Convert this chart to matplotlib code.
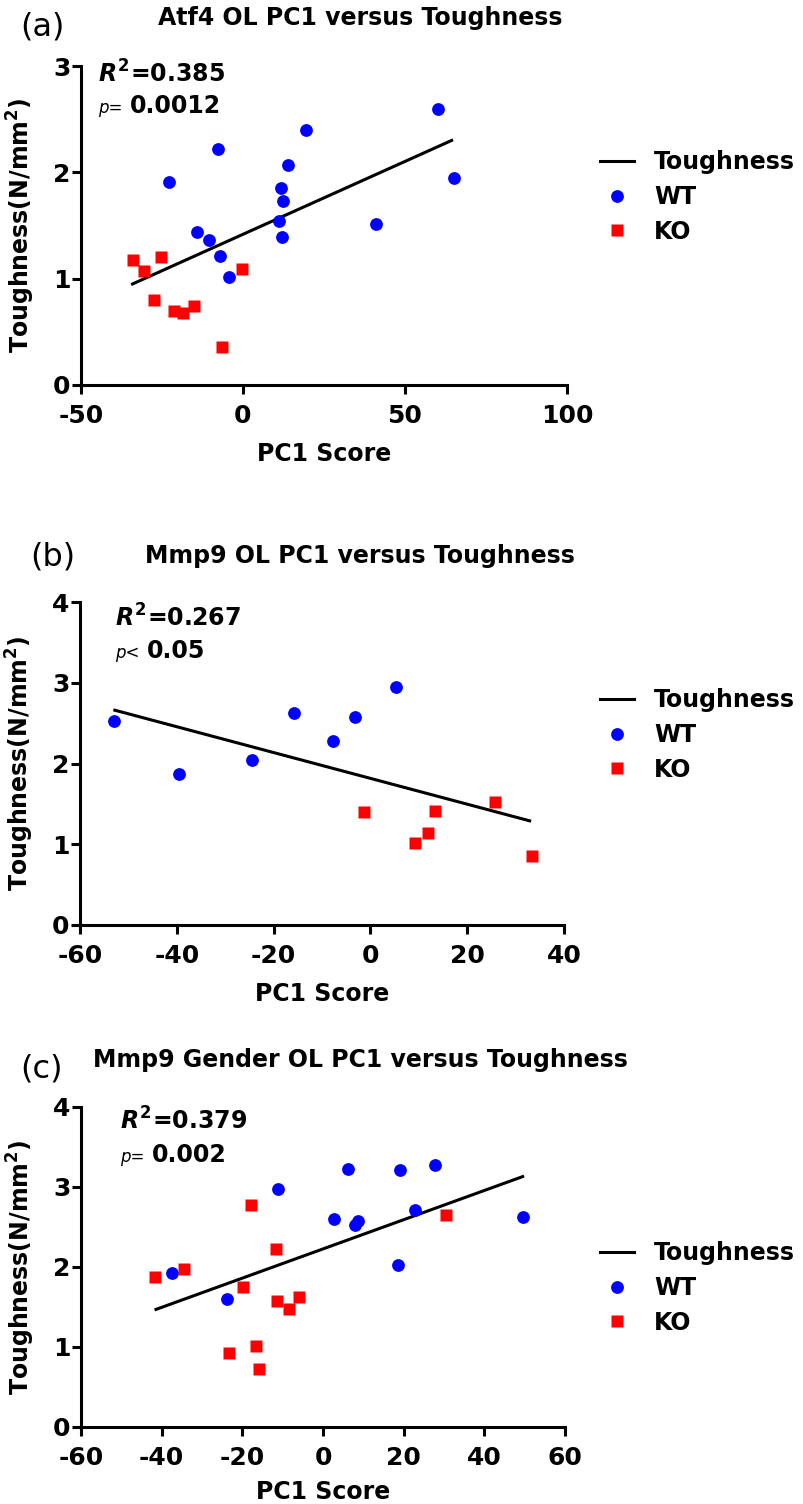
import matplotlib
matplotlib.use('Agg')
import matplotlib.pyplot as plt
import numpy as np

plt.rcParams['font.family'] = ['DejaVu Sans']
plt.rcParams['font.weight'] = 'bold'
plt.rcParams['axes.unicode_minus'] = False
plt.rcParams['mathtext.fontset'] = 'custom'
plt.rcParams['mathtext.it'] = 'DejaVu Sans:italic:bold'
plt.rcParams['mathtext.rm'] = 'DejaVu Sans:bold'
plt.rcParams['mathtext.bf'] = 'DejaVu Sans:bold'

# ---- data ----
# (a) Atf4
a_wt_x = [-22.7, -7.8, 19.3, 13.9, 11.8, 12.5, 11.1, 11.9, 41.1, -14.1, -10.6, -7.0, -4.2, 60.2, 65.0]
a_wt_y = [1.91, 2.22, 2.40, 2.07, 1.85, 1.73, 1.54, 1.39, 1.51, 1.44, 1.36, 1.21, 1.02, 2.60, 1.95]
a_ko_x = [-34.1, -30.6, -25.4, -27.5, -21.4, -18.6, -15.1, -0.3, -6.6]
a_ko_y = [1.18, 1.07, 1.20, 0.80, 0.70, 0.68, 0.74, 1.09, 0.36]
a_fit_x = [-34.1, 64.4]
a_fit_y = [0.95, 2.30]

# (b) Mmp9
b_wt_x = [-52.9, -39.6, -24.4, -15.7, -7.7, -3.1, 5.3]
b_wt_y = [2.53, 1.87, 2.04, 2.62, 2.28, 2.58, 2.95]
b_ko_x = [-1.4, 9.3, 11.9, 13.4, 25.8, 33.4]
b_ko_y = [1.40, 1.01, 1.14, 1.41, 1.52, 0.85]
b_fit_x = [-52.8, 32.9]
b_fit_y = [2.66, 1.29]

# (c) Mmp9 gender
c_wt_x = [-37.5, -23.7, -11.2, 6.2, 2.7, 8.0, 8.8, 19.2, 18.7, 22.9, 27.8, 49.5]
c_wt_y = [1.92, 1.60, 2.98, 3.23, 2.60, 2.52, 2.57, 3.21, 2.03, 2.71, 3.27, 2.63]
c_ko_x = [-41.6, -34.4, -17.8, -11.7, -19.9, -11.5, -8.5, -5.9, 30.6, -23.4, -16.7, -15.9]
c_ko_y = [1.87, 1.97, 2.78, 2.23, 1.75, 1.58, 1.48, 1.63, 2.65, 0.93, 1.01, 0.72]
c_fit_x = [-41.4, 49.5]
c_fit_y = [1.47, 3.13]

titles = ['Atf4 OL PC1 versus Toughness',
          'Mmp9 OL PC1 versus Toughness',
          'Mmp9 Gender OL PC1 versus Toughness']
panel_tags = ['(a)', '(b)', '(c)']
r2_text = ['0.385', '0.267', '0.379']
p_sign = ['p=', 'p<', 'p=']
p_text = ['0.0012', '0.05', '0.002']
x_ticks = [[-50, 0, 50, 100], [-60, -40, -20, 0, 20, 40], [-60, -40, -20, 0, 20, 40, 60]]
y_ticks = [[0, 1, 2, 3], [0, 1, 2, 3, 4], [0, 1, 2, 3, 4]]

W, H = 804, 1504
fig = plt.figure(figsize=(W / 100, H / 100), dpi=100)

def fx(x):
    return x / W

def fy(y):
    return 1 - y / H

# layout in pixels: left, top, right, bottom
boxes = [(81, 66, 567, 385), (80, 602, 564, 925), (81, 1107, 565, 1427)]
tag_pos = [(20, 35), (30, 565), (20, 1077)]
title_y = [25, 563, 1067]
r2_pos = [(98, 83), (115, 627), (120, 1130)]
p_pos = [(98, 130, 113), (115, 147, 658), (120, 152, 1162)]
legend_y = [197, 735, 1288]
xlab_y = [-0.179, -0.176, -0.166]

panels = [
    (a_wt_x, a_wt_y, a_ko_x, a_ko_y, a_fit_x, a_fit_y),
    (b_wt_x, b_wt_y, b_ko_x, b_ko_y, b_fit_x, b_fit_y),
    (c_wt_x, c_wt_y, c_ko_x, c_ko_y, c_fit_x, c_fit_y),
]

for i, (wx, wy, kx, ky, fitx, fity) in enumerate(panels):
    l, t, r, b = boxes[i]
    ax = fig.add_axes([fx(l), fy(b), (r - l) / W, (b - t) / H])
    line, = ax.plot(fitx, fity, color='black', lw=2.2, label='Toughness', zorder=2)
    wt, = ax.plot(wx, wy, 'o', color='#0000FF', ms=9.2, mec='none', label='WT', zorder=3, clip_on=False)
    ko, = ax.plot(kx, ky, 's', color='#FF0000', ms=8.6, mec='none', label='KO', zorder=3, clip_on=False)

    ax.set_xlim(x_ticks[i][0], x_ticks[i][-1])
    ax.set_ylim(y_ticks[i][0], y_ticks[i][-1])
    ax.set_xticks(x_ticks[i])
    ax.set_yticks(y_ticks[i])
    for s in ['top', 'right']:
        ax.spines[s].set_visible(False)
    for s in ['left', 'bottom']:
        ax.spines[s].set_linewidth(2.2)
    ax.tick_params(direction='out', length=6.5, width=2.2, labelsize=18)
    ax.tick_params(axis='x', pad=7)
    ax.tick_params(axis='y', pad=1)

    ax.set_xlabel('PC1 Score', fontsize=17, fontweight='bold')
    ax.set_ylabel('Toughness(N/mm$^2$)', fontsize=17, fontweight='bold')
    ax.xaxis.set_label_coords(0.5, xlab_y[i])
    ax.yaxis.set_label_coords(-0.09, 0.5)

    ax.legend(handles=[line, wt, ko], loc='center left', frameon=False,
              bbox_to_anchor=(fx(600), fy(legend_y[i])), bbox_transform=fig.transFigure,
              prop={'size': 17, 'weight': 'bold'}, borderpad=0, borderaxespad=0,
              handlelength=1.45, handletextpad=0.85, labelspacing=0.45)

    # title and panel tag
    fig.text(fx(360), fy(title_y[i]), titles[i], ha='center', va='baseline',
             fontsize=17, fontweight='bold')
    fig.text(fx(tag_pos[i][0]), fy(tag_pos[i][1]), panel_tags[i], ha='left', va='baseline',
             fontsize=23, fontweight='normal')

    # statistics
    fig.text(fx(r2_pos[i][0]), fy(r2_pos[i][1]), '$R^{2}$=' + r2_text[i], ha='left',
             va='baseline', fontsize=17, fontweight='bold')
    fig.text(fx(p_pos[i][0]), fy(p_pos[i][2]), p_sign[i], ha='left', va='baseline',
             fontsize=12, fontweight='normal', style='italic')
    fig.text(fx(p_pos[i][1]), fy(p_pos[i][2]), p_text[i], ha='left', va='baseline',
             fontsize=17, fontweight='bold')

fig.savefig('out.png', dpi=100)
